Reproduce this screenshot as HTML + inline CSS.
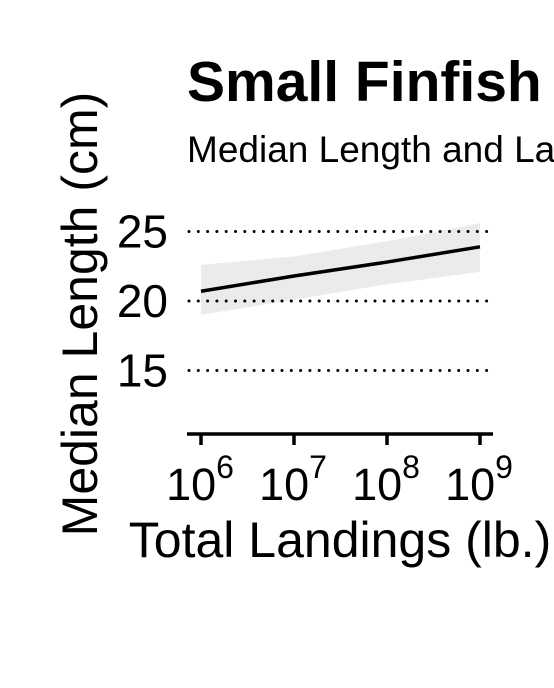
<!DOCTYPE html>
<html><head><meta charset="utf-8"><style>
html,body{margin:0;padding:0;background:#fff;overflow:hidden}
svg{display:block;font-family:"Liberation Sans",sans-serif}
</style></head><body>
<svg id="c" width="554" height="688" viewBox="0 0 554 688">
<text x="187" y="101" font-size="57" font-weight="bold">Small Finfish</text>
<text x="187" y="162" font-size="37">Median Length and Landings</text>
<text transform="translate(97,314) rotate(-90)" text-anchor="middle" font-size="50">Median Length (cm)</text>
<text x="340" y="557" text-anchor="middle" font-size="50">Total Landings (lb.)</text>
<g id="marks"></g><g id="grid"></g><g id="axes"></g>
</svg>
<script>
const xExp=[6,7,8,9];
const yTicks=[15,20,25];
const fitX=[6,7,8,9];
const fitY=[20.7,21.8,22.8,23.9];
const upperY=[22.6,23.2,24.3,25.6];
const lowerY=[19.0,20.1,21.2,22.1];
const NS="http://www.w3.org/2000/svg";
const X=e=>201+(e-6)*93;
const Y=v=>301-(v-20)*13.9;
function mk(t,a,p){const el=document.createElementNS(NS,t);for(const k in a)el.setAttribute(k,a[k]);p.appendChild(el);return el;}
const grid=document.getElementById('grid'),marks=document.getElementById('marks'),axes=document.getElementById('axes');
yTicks.forEach(v=>{
 const l=mk('line',{x1:189,x2:492,y1:Y(v),y2:Y(v),stroke:'#000','stroke-width':3,'stroke-dasharray':'0 9.3','stroke-linecap':'round'},grid);
 
 
 const t=mk('text',{x:168,y:Y(v)+16,'text-anchor':'end','font-size':46},axes);t.textContent=v;
 
 
});
let pts=fitX.map((e,i)=>X(e)+','+Y(upperY[i]));
for(let i=fitX.length-1;i>=0;i--)pts.push(X(fitX[i])+','+Y(lowerY[i]));
const rib=mk('polygon',{points:pts.join(' '),fill:'#ebebeb'},marks);


const ln=mk('polyline',{points:fitX.map((e,i)=>X(e)+','+Y(fitY[i])).join(' '),fill:'none',stroke:'#000','stroke-width':3.5},axes);


const ax=mk('line',{x1:187,x2:493,y1:434,y2:434,stroke:'#000','stroke-width':3.5},axes);


xExp.forEach(e=>{
 const tk=mk('line',{x1:X(e),x2:X(e),y1:434,y2:445,stroke:'#000','stroke-width':3.5},axes);
 
 
 const t=mk('text',{x:X(e)-1,y:500,'text-anchor':'middle','font-size':45},axes);
 
 
 const b=mk('tspan',{},t);b.textContent='10';
 const s=mk('tspan',{dy:-22,'font-size':32},t);s.textContent=e;
});
</script>
</body></html>
